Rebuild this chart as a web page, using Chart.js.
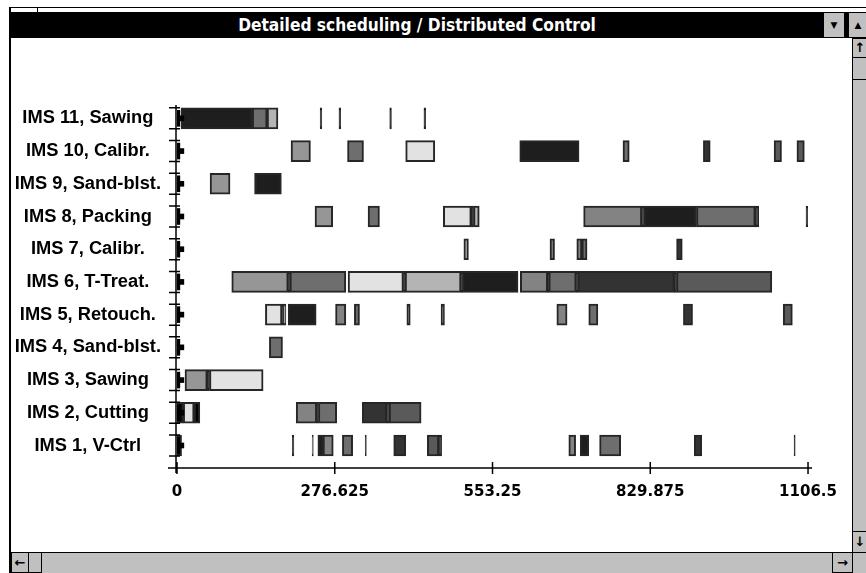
<!DOCTYPE html>
<html>
<head>
<meta charset="utf-8">
<title>Detailed scheduling / Distributed Control</title>
<script src="https://cdn.jsdelivr.net/npm/chart.js@4.4.1/dist/chart.umd.min.js"></script>
<style>
  html, body { margin: 0; padding: 0; background: #fff; width: 866px; height: 573px; overflow: hidden; }
  body { position: relative; }
  .abs { position: absolute; box-sizing: border-box; }
  .frame-top { left: 9px; top: 7px; width: 857px; height: 1px; background: #000; }
  .frame-notch { left: 37px; top: 7px; width: 1px; height: 5px; background: #000; }
  .frame-left { left: 9px; top: 7px; width: 2px; height: 566px; background: #000; }
  .titlebar { left: 11px; top: 12px; width: 855px; height: 26px; background: #000; }
  .title { left: 11px; top: 12px; width: 812px; height: 26px; color: #fff; text-align: center;
           font: bold 17.2px "DejaVu Sans Condensed", "DejaVu Sans", sans-serif; line-height: 26px; }
  .btn { background: #c0c0c0; border: 1px solid #000; text-align: center; color: #000;
         font: 9px "DejaVu Sans", sans-serif; }
  .arrow { font-size: 13px; font-weight: bold; }
  .client { left: 11px; top: 38px; width: 841px; height: 514px; background: #fff; }
  .vscroll { left: 852px; top: 38px; width: 14px; height: 514px; background: #c0c0c0; border-left: 1px solid #000; }
  .hscroll { left: 11px; top: 552px; width: 855px; height: 21px; background: #c0c0c0; border-top: 1px solid #000; }
</style>
</head>
<body>
<div class="abs frame-top"></div>
<div class="abs frame-notch"></div>
<div class="abs frame-left"></div>
<div class="abs titlebar"></div>
<div class="abs title">Detailed scheduling / Distributed Control</div>
<div class="abs btn" style="left:823px;top:12px;width:22px;height:26px;line-height:24px;">&#9660;</div>
<div class="abs btn" style="left:848px;top:12px;width:20px;height:26px;line-height:24px;">&#9650;</div>
<div class="abs vscroll"></div>
<div class="abs btn arrow" style="left:852px;top:38px;width:16px;height:20px;line-height:18px;">&#8593;</div>
<div class="abs btn" style="left:852px;top:57px;width:16px;height:23px;"></div>
<div class="abs btn arrow" style="left:852px;top:531px;width:16px;height:22px;line-height:20px;">&#8595;</div>
<div class="abs hscroll"></div>
<div class="abs btn arrow" style="left:11px;top:552px;width:18px;height:21px;line-height:19px;">&#8592;</div>
<div class="abs btn" style="left:28px;top:552px;width:14px;height:21px;"></div>
<div class="abs btn arrow" style="left:832px;top:552px;width:21px;height:21px;line-height:19px;">&#8594;</div>
<div class="abs client">
  <div style="position:relative;width:840px;height:514px;">
    <canvas id="gantt"></canvas>
  </div>
</div>
<script>
// machines, bottom to top
const rowNames = ['IMS 1, V-Ctrl', 'IMS 2, Cutting', 'IMS 3, Sawing', 'IMS 4, Sand-blst.',
  'IMS 5, Retouch.', 'IMS 6, T-Treat.', 'IMS 7, Calibr.', 'IMS 8, Packing',
  'IMS 9, Sand-blst.', 'IMS 10, Calibr.', 'IMS 11, Sawing'];

const xTicks = [0, 276.625, 553.25, 829.875, 1106.5];

// operations per machine: [start, end, job code]
const ims1 = [[0, 8, 'K'], [202, 205, 'K'], [237, 239, 'E'], [247, 256, 'V'], [256, 274, 'N'], [290, 308, 'D'],
  [330, 332, 'K'], [380, 401, 'F'], [439, 459, 'E'], [459, 464, 'K'], [687, 699, 'N'], [707, 722, 'V'],
  [741, 778, 'D'], [907, 920, 'F'], [1082, 1084, 'K']];
const ims2 = [[0, 11, 'K'], [11, 30, 'L'], [30, 40, 'K'], [209, 245, 'N'], [245, 248, 'K'], [248, 280, 'D'],
  [325, 368, 'F'], [368, 372, 'K'], [372, 428, 'E']];
const ims3 = [[14, 53, 'M'], [53, 57, 'K'], [57, 151, 'L']];
const ims4 = [[162, 185, 'D']];
const ims5 = [[155, 184, 'L'], [184, 187, 'K'], [187, 191, 'B'], [195, 244, 'V'], [278, 296, 'N'], [311, 320, 'D'],
  [403, 409, 'F'], [463, 469, 'F'], [666, 684, 'N'], [722, 738, 'D'], [888, 904, 'F'], [1063, 1079, 'E']];
const ims6 = [[96, 195, 'M'], [195, 198, 'K'], [198, 296, 'D'], [300, 397, 'L'], [397, 400, 'K'], [400, 498, 'B'],
  [498, 501, 'K'], [501, 598, 'V'], [602, 650, 'N'], [650, 652, 'K'], [652, 700, 'D'], [700, 703, 'K'],
  [703, 872, 'F'], [872, 876, 'K'], [876, 1043, 'E']];
const ims7 = [[503, 511, 'B'], [654, 662, 'N'], [701, 710, 'N'], [710, 719, 'D'], [876, 886, 'F']];
const ims8 = [[242, 273, 'M'], [335, 355, 'D'], [467, 516, 'L'], [516, 520, 'K'], [520, 530, 'B'], [713, 815, 'N'],
  [815, 819, 'K'], [819, 911, 'V'], [911, 1014, 'D'], [1014, 1020, 'K'], [1103, 1106, 'K']];
const ims9 = [[58, 93, 'M'], [136, 183, 'V']];
const ims10 = [[200, 234, 'M'], [299, 327, 'D'], [401, 452, 'L'], [601, 705, 'V'], [782, 793, 'D'],
  [923, 935, 'F'], [1047, 1060, 'E'], [1087, 1100, 'E']];
const ims11 = [[7, 132, 'V'], [132, 158, 'D'], [158, 177, 'B'], [251, 254, 'K'], [284, 287, 'K'],
  [373, 376, 'K'], [433, 436, 'K']];

// release marker at t=0 on every machine
const releaseStem = [0, 5];
const releaseFlag = [0, 12];

const rowOps = [ims1, ims2, ims3, ims4, ims5, ims6, ims7, ims8, ims9, ims10, ims11];
const jobCodes = ['K', 'V', 'F', 'E', 'D', 'N', 'M', 'B', 'L'];
const jobShade = {
  K: '#000000', V: '#1e1e1e', F: '#333333', E: '#5a5a5a', D: '#6e6e6e',
  N: '#838383', M: '#969696', B: '#b4b4b4', L: '#e2e2e2'
};

const BAR = 21;

function opsFor(code) {
  const pts = [];
  rowOps.forEach((ops, i) => {
    ops.forEach(([s, e, c]) => {
      if (c === code) pts.push({ x: [s, e], y: i + 1 });
    });
  });
  return pts;
}

const datasets = [
  {
    label: 'release',
    data: rowNames.map((_, i) => ({ x: releaseStem, y: i + 1 })),
    backgroundColor: '#000', borderWidth: 0, barThickness: 16
  },
  {
    label: 'release flag',
    data: rowNames.map((_, i) => ({ x: releaseFlag, y: i + 1 })),
    backgroundColor: '#000', borderWidth: 0, barThickness: 5
  },
  ...jobCodes.map(code => ({
    label: code,
    data: opsFor(code),
    backgroundColor: jobShade[code],
    borderColor: '#262626',
    borderWidth: 2,
    barThickness: BAR
  }))
];

// axis lines and tick marks that cross the axes
const axisMarks = {
  id: 'axisMarks',
  afterDraw(chart) {
    const { ctx, chartArea: a, scales: { x, y } } = chart;
    ctx.save();
    ctx.strokeStyle = '#000';
    ctx.lineWidth = 1.5;
    ctx.beginPath();
    ctx.moveTo(a.left - 9, a.bottom);
    ctx.lineTo(a.right + 4, a.bottom);
    ctx.moveTo(a.left - 1, a.top + 3);
    ctx.lineTo(a.left - 1, a.bottom + 5);
    x.ticks.forEach(t => {
      const px = x.getPixelForValue(t.value);
      ctx.moveTo(px, a.bottom - 6);
      ctx.lineTo(px, a.bottom + 6);
    });
    y.ticks.forEach(t => {
      const py = y.getPixelForValue(t.value);
      [-BAR / 2, BAR / 2].forEach(d => {
        ctx.moveTo(a.left - 8, py + d);
        ctx.lineTo(a.left + 3, py + d);
      });
    });
    ctx.stroke();
    ctx.restore();
  }
};

new Chart(document.getElementById('gantt'), {
  type: 'bar',
  data: { datasets },
  plugins: [axisMarks],
  options: {
    indexAxis: 'y',
    responsive: true,
    maintainAspectRatio: false,
    animation: false,
    layout: { padding: { top: 64, right: 38, bottom: 0, left: 0 } },
    datasets: {
      bar: { grouped: false, borderSkipped: false }
    },
    plugins: {
      legend: { display: false },
      tooltip: { enabled: false }
    },
    scales: {
      x: {
        type: 'linear',
        min: 0,
        max: 1106.5,
        offset: false,
        grid: { display: false, drawTicks: false },
        border: { display: false },
        afterBuildTicks: scale => { scale.ticks = xTicks.map(v => ({ value: v })); },
        afterFit: scale => { scale.height = 84; },
        ticks: {
          autoSkip: false,
          maxRotation: 0,
          padding: 14,
          color: '#000',
          font: { family: '"DejaVu Sans Condensed", "DejaVu Sans", sans-serif', size: 16.7, weight: 'bold' },
          callback: v => String(v)
        }
      },
      y: {
        type: 'linear',
        min: 0.312,
        max: 11.5,
        offset: false,
        grid: { display: false, drawTicks: false, offset: false },
        border: { display: false },
        afterBuildTicks: scale => { scale.ticks = rowNames.map((_, i) => ({ value: i + 1 })); },
        afterFit: scale => { scale.width = 166; },
        ticks: {
          autoSkip: false,
          crossAlign: 'center',
          padding: 16,
          color: '#000',
          font: { family: '"Liberation Sans", Arial, sans-serif', size: 18.3, weight: 'bold' },
          callback: v => rowNames[v - 1]
        }
      }
    }
  }
});
</script>
</body>
</html>
